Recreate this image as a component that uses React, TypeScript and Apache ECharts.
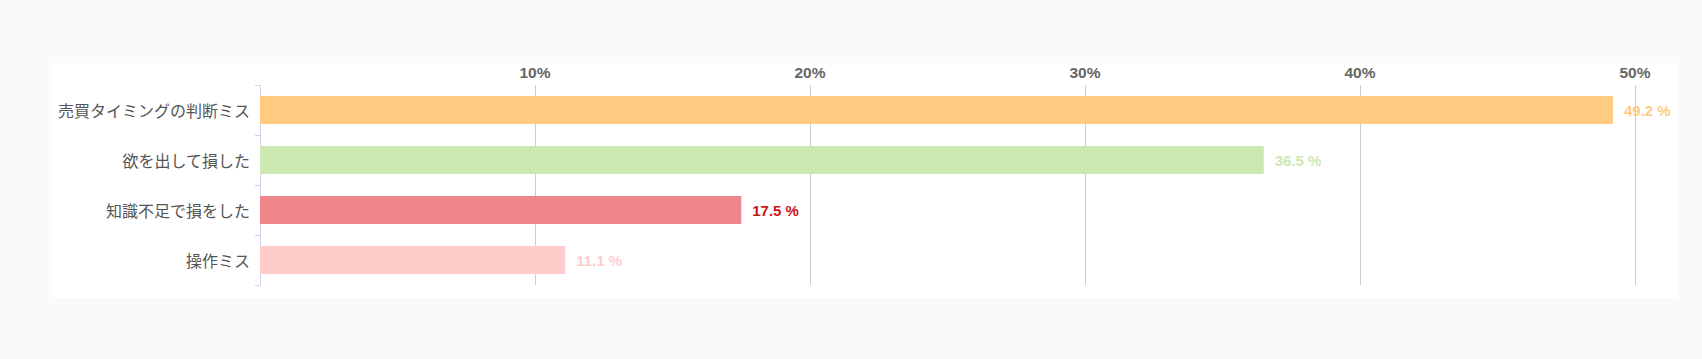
import React, { useEffect, useRef } from "react";
import * as echarts from "echarts";

const categories = ["売買タイミングの判断ミス", "欲を出して損した", "知識不足で損をした", "操作ミス"];
const values = [49.2, 36.5, 17.5, 11.1];
const barColors = ["#ffcb80", "#cde8b2", "#ee868b", "#ffcccc"];
const labelColors = ["#ffcb80", "#cde8b2", "#cc1515", "#ffcccc"];
const xTicks = [0, 10, 20, 30, 40, 50];

export default function App() {
  const ref = useRef<HTMLDivElement>(null);
  useEffect(() => {
    document.body.style.margin = "0";
    const chart = echarts.init(ref.current!, undefined, { renderer: "svg" });
    chart.setOption({
      animation: false,
      backgroundColor: "transparent",
      grid: { left: 260, right: 67, top: 85, bottom: 74, containLabel: false },
      xAxis: {
        type: "value",
        position: "top",
        min: xTicks[0],
        max: xTicks[xTicks.length - 1],
        interval: 10,
        axisLine: { show: false },
        axisTick: { show: false },
        splitLine: { show: true, lineStyle: { color: "#cccccc", width: 1 } },
        axisLabel: {
          margin: 5,
          color: "#666666",
          fontWeight: "bold",
          fontSize: 15.5,
          fontFamily: "Liberation Sans, Arial, sans-serif",
          formatter: (v: number) => (v === 0 ? "" : v + "%"),
        },
      },
      yAxis: {
        type: "category",
        data: categories,
        inverse: true,
        axisLine: { show: true, lineStyle: { color: "#ccd6eb", width: 1 } },
        axisTick: { show: true, length: 5, lineStyle: { color: "#ccd6eb" } },
        splitLine: { show: false },
        axisLabel: {
          margin: 10,
          color: "#555555",
          fontSize: 16,
          fontFamily: "Noto Sans CJK JP, sans-serif",
        },
      },
      series: [
        {
          type: "bar",
          barWidth: 28,
          data: values.map((v, i) => ({
            value: v,
            itemStyle: { color: barColors[i] },
            label: { color: labelColors[i] },
          })),
          label: {
            show: true,
            position: "right",
            distance: 11,
            fontWeight: "bold",
            fontSize: 15,
            fontFamily: "Liberation Sans, Arial, sans-serif",
            formatter: (p: any) => p.value + " %",
          },
        },
      ],
    });
    return () => chart.dispose();
  }, []);
  return (
    <div style={{ position: "absolute", left: 0, top: 0, width: 1702, height: 359, background: "#fafafa" }}>
      <div style={{ position: "absolute", left: 52, top: 63, width: 1625, height: 235, background: "#ffffff" }} />
      <div ref={ref} style={{ position: "absolute", left: 0, top: 0, width: 1702, height: 359 }} />
    </div>
  );
}
